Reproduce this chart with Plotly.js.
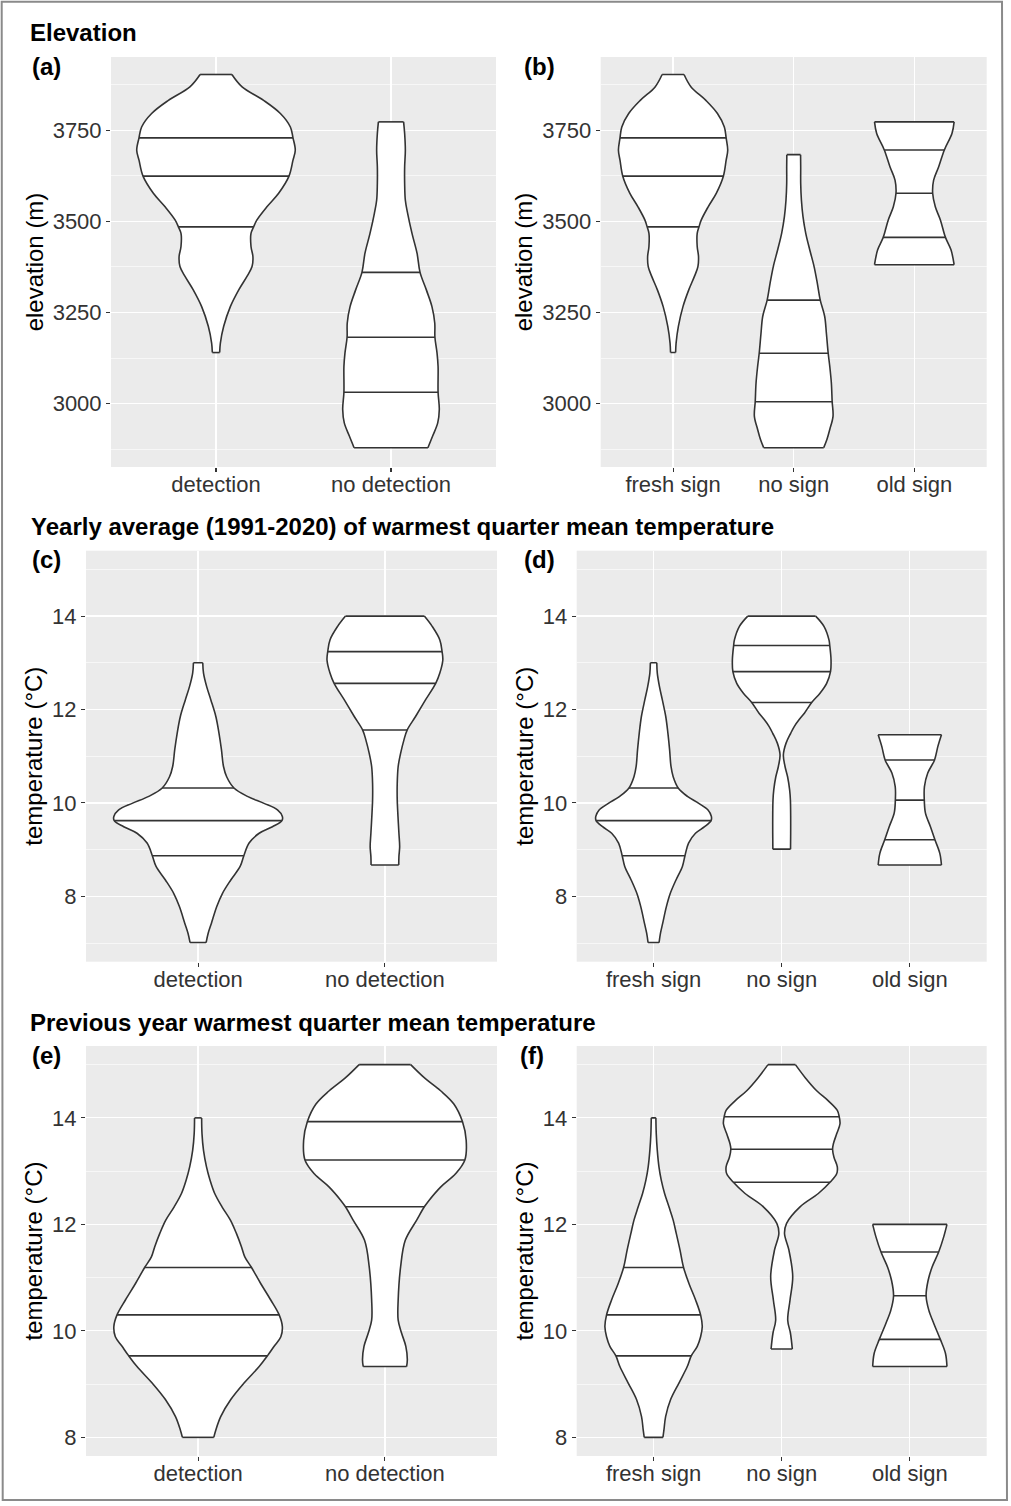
<!DOCTYPE html>
<html>
<head>
<meta charset="utf-8">
<script src="https://cdn.plot.ly/plotly-3.0.1.min.js"></script>
<style>
html,body{margin:0;padding:0;background:#fff;}
#chart{width:1011px;height:1506px;}
</style>
</head>
<body>
<div id="chart"></div>
<script>
// ---------------- categories, titles, ticks ----------------
const detCats  = ['detection', 'no detection'];
const signCats = ['fresh sign', 'no sign', 'old sign'];
const sectionTitles = ['Elevation',
  'Yearly average (1991-2020) of warmest quarter mean temperature',
  'Previous year warmest quarter mean temperature'];
const panelLabels = ['(a)', '(b)', '(c)', '(d)', '(e)', '(f)'];
const elevTitle = 'elevation (m)';
const tempTitle = 'temperature (°C)';
const elevTicks = [3000, 3250, 3500, 3750];
const elevMinor = [2875, 3125, 3375, 3625, 3875];
const tempTicks = [8, 10, 12, 14];
const tempMinorCD = [7, 9, 11, 13, 15];
const tempMinorEF = [9, 11, 13, 15];
const elevRange = [2826, 3951];
const yavgRange = [6.6, 15.4];
const prevRange = [7.65, 15.35];

// ---------------- violin outlines: value level, half-width (category units), quartiles ----------------
// Elevation: detection (also fresh sign)
const elevDetY = [3903, 3869, 3832, 3796, 3759, 3729, 3695, 3668, 3624, 3577, 3540, 3504, 3485, 3467, 3431, 3403, 3376, 3349, 3312, 3266, 3212, 3166, 3140];
const elevDetW = [0.091, 0.149, 0.272, 0.368, 0.425, 0.440, 0.453, 0.440, 0.417, 0.358, 0.291, 0.234, 0.215, 0.200, 0.200, 0.211, 0.206, 0.177, 0.130, 0.082, 0.044, 0.025, 0.021];
const elevDetQ = [3485, 3624, 3729];
// Elevation: no detection
const elevNoDetY = [3773, 3741, 3695, 3650, 3604, 3558, 3522, 3467, 3412, 3360, 3312, 3266, 3221, 3182, 3139, 3102, 3031, 2984, 2947, 2911, 2879];
const elevNoDetW = [0.072, 0.078, 0.082, 0.078, 0.078, 0.082, 0.095, 0.120, 0.149, 0.166, 0.202, 0.234, 0.250, 0.251, 0.263, 0.269, 0.269, 0.276, 0.267, 0.238, 0.211];
const elevNoDetQ = [3031, 3182, 3360];
// Elevation: no sign
const elevNoSignY = [3683, 3650, 3604, 3558, 3513, 3467, 3422, 3376, 3330, 3284, 3239, 3193, 3138, 3102, 3057, 3005, 2965, 2929, 2902, 2879];
const elevNoSignW = [0.057, 0.058, 0.058, 0.064, 0.077, 0.100, 0.133, 0.169, 0.196, 0.220, 0.257, 0.271, 0.286, 0.299, 0.312, 0.319, 0.326, 0.299, 0.276, 0.249];
const elevNoSignQ = [3005, 3138, 3284];
// Elevation: old sign
const elevOldY = [3773, 3741, 3696, 3650, 3613, 3577, 3540, 3504, 3456, 3422, 3381];
const elevOldW = [0.330, 0.312, 0.249, 0.202, 0.160, 0.152, 0.174, 0.216, 0.258, 0.304, 0.330];
const elevOldQ = [3456, 3577, 3696];

// Yearly average: detection (also fresh sign)
const yavgDetY = [13.00, 12.78, 12.49, 12.21, 11.85, 11.49, 11.14, 10.78, 10.56, 10.32, 10.14, 9.99, 9.85, 9.71, 9.62, 9.49, 9.35, 9.14, 8.87, 8.64, 8.35, 8.06, 7.78, 7.42, 7.21, 7.01];
const yavgDetW = [0.025, 0.029, 0.046, 0.068, 0.095, 0.112, 0.125, 0.136, 0.153, 0.192, 0.264, 0.353, 0.425, 0.451, 0.449, 0.398, 0.327, 0.273, 0.245, 0.225, 0.175, 0.130, 0.100, 0.071, 0.054, 0.043];
const yavgDetQ = [8.87, 9.62, 10.32];
// Yearly average: no detection
const yavgNoDetY = [14.00, 13.78, 13.49, 13.24, 13.06, 12.78, 12.56, 12.21, 11.85, 11.56, 11.35, 11.06, 10.78, 10.42, 10.06, 9.71, 9.35, 9.06, 8.85, 8.67];
const yavgNoDetW = [0.211, 0.253, 0.294, 0.306, 0.310, 0.294, 0.272, 0.218, 0.164, 0.119, 0.102, 0.084, 0.071, 0.066, 0.066, 0.070, 0.075, 0.079, 0.075, 0.074];
const yavgNoDetQ = [11.56, 12.56, 13.24];
// Yearly average: no sign
const yavgNoSignY = [14.00, 13.78, 13.49, 13.37, 13.06, 12.81, 12.56, 12.35, 12.15, 11.92, 11.78, 11.64, 11.49, 11.28, 11.03, 10.78, 10.56, 10.28, 10.06, 9.71, 9.35, 9.01];
const yavgNoSignW = [0.265, 0.330, 0.369, 0.375, 0.385, 0.381, 0.351, 0.299, 0.234, 0.177, 0.135, 0.099, 0.070, 0.034, 0.013, 0.026, 0.046, 0.062, 0.068, 0.070, 0.070, 0.069];
const yavgNoSignQ = [12.15, 12.81, 13.37];
// Yearly average: old sign
const yavgOldY = [11.46, 11.21, 10.92, 10.64, 10.35, 10.06, 9.78, 9.49, 9.21, 8.92, 8.67];
const yavgOldW = [0.247, 0.219, 0.193, 0.140, 0.114, 0.113, 0.122, 0.161, 0.196, 0.234, 0.247];
const yavgOldQ = [9.21, 10.06, 10.92];

// Previous year: detection
const prevDetY = [14.00, 13.70, 13.39, 13.08, 12.83, 12.58, 12.33, 12.08, 11.83, 11.58, 11.39, 11.19, 10.89, 10.58, 10.30, 10.08, 9.89, 9.71, 9.53, 9.33, 9.02, 8.71, 8.39, 8.14, 8.00];
const prevDetW = [0.019, 0.021, 0.029, 0.045, 0.064, 0.089, 0.128, 0.173, 0.205, 0.232, 0.250, 0.286, 0.335, 0.389, 0.434, 0.451, 0.443, 0.407, 0.371, 0.327, 0.246, 0.175, 0.121, 0.095, 0.084];
const prevDetQ = [9.53, 10.30, 11.19];
// Previous year: no detection
const prevNoDetY = [15.00, 14.76, 14.51, 14.26, 13.93, 13.58, 13.21, 12.95, 12.70, 12.45, 12.33, 12.08, 11.70, 11.20, 10.58, 10.20, 9.96, 9.71, 9.46, 9.33];
const prevNoDetW = [0.138, 0.209, 0.298, 0.369, 0.415, 0.435, 0.428, 0.378, 0.298, 0.236, 0.211, 0.170, 0.109, 0.084, 0.071, 0.071, 0.089, 0.112, 0.120, 0.116];
const prevNoDetQ = [12.33, 13.21, 13.93];
// Previous year: fresh sign
const prevFreshY = [14.00, 13.70, 13.39, 13.08, 12.83, 12.58, 12.33, 12.08, 11.83, 11.52, 11.19, 10.89, 10.58, 10.30, 10.08, 9.89, 9.71, 9.53, 9.33, 9.02, 8.71, 8.39, 8.14, 8.00];
const prevFreshW = [0.018, 0.021, 0.029, 0.042, 0.060, 0.086, 0.120, 0.153, 0.177, 0.206, 0.234, 0.276, 0.328, 0.367, 0.380, 0.367, 0.341, 0.294, 0.263, 0.198, 0.133, 0.094, 0.081, 0.073];
const prevFreshQ = [9.53, 10.30, 11.19];
// Previous year: no sign
const prevNoSignY = [15.00, 14.76, 14.51, 14.32, 14.14, 14.02, 13.89, 13.70, 13.51, 13.41, 13.26, 13.08, 12.95, 12.79, 12.58, 12.33, 12.02, 11.83, 11.52, 11.02, 10.58, 10.20, 9.96, 9.66];
const prevNoSignW = [0.107, 0.182, 0.273, 0.364, 0.434, 0.449, 0.455, 0.429, 0.403, 0.397, 0.408, 0.434, 0.429, 0.377, 0.286, 0.143, 0.038, 0.022, 0.056, 0.086, 0.065, 0.047, 0.068, 0.083];
const prevNoSignQ = [12.79, 13.41, 14.02];
// Previous year: old sign
const prevOldY = [12.00, 11.77, 11.48, 11.20, 10.95, 10.66, 10.39, 10.14, 9.84, 9.58, 9.33];
const prevOldW = [0.290, 0.265, 0.225, 0.174, 0.143, 0.127, 0.148, 0.187, 0.238, 0.278, 0.290];
const prevOldQ = [9.84, 10.66, 11.48];

// ---------------- helpers ----------------
const FIG_W = 1011, FIG_H = 1506;
const FONT = 'Liberation Sans, Arial, Helvetica, sans-serif';
const LINE = '#333333';
const LW = 1.6;
const px = v => v / FIG_W;
const py = v => 1 - v / FIG_H;

function widthAt(ys, ws, v) {
  for (let i = 0; i < ys.length - 1; i++) {
    const a = ys[i], b = ys[i + 1];
    if ((v <= a && v >= b) || (v >= a && v <= b)) {
      const t = (a === b) ? 0 : (v - a) / (b - a);
      return ws[i] + t * (ws[i + 1] - ws[i]);
    }
  }
  return 0;
}

const traces = [];
function addViolin(k, pos, ys, ws, qs) {
  const xa = 'x' + (k === 1 ? '' : k), ya = 'y' + (k === 1 ? '' : k);
  const common = {xaxis: xa, yaxis: ya, mode: 'lines', hoverinfo: 'skip', showlegend: false};
  traces.push(Object.assign({}, common, {
    x: ys.map((y, i) => pos - ws[i]), y: ys,
    line: {color: LINE, width: LW, shape: 'spline', smoothing: 1}
  }));
  traces.push(Object.assign({}, common, {
    x: ys.map((y, i) => pos + ws[i]), y: ys,
    fill: 'tonextx', fillcolor: '#ffffff',
    line: {color: LINE, width: LW, shape: 'spline', smoothing: 1}
  }));
  const lx = [], ly = [];
  [ys[0], ys[ys.length - 1]].concat(qs).forEach(v => {
    const w = widthAt(ys, ws, v);
    lx.push(pos - w, pos + w, null);
    ly.push(v, v, null);
  });
  traces.push(Object.assign({}, common, {x: lx, y: ly, line: {color: LINE, width: LW}}));
}

// panel (a)
addViolin(1, 1, elevDetY, elevDetW, elevDetQ);
addViolin(1, 2, elevNoDetY, elevNoDetW, elevNoDetQ);
// panel (b)
addViolin(2, 1, elevDetY, elevDetW, elevDetQ);
addViolin(2, 2, elevNoSignY, elevNoSignW, elevNoSignQ);
addViolin(2, 3, elevOldY, elevOldW, elevOldQ);
// panel (c)
addViolin(3, 1, yavgDetY, yavgDetW, yavgDetQ);
addViolin(3, 2, yavgNoDetY, yavgNoDetW, yavgNoDetQ);
// panel (d)
addViolin(4, 1, yavgDetY, yavgDetW, yavgDetQ);
addViolin(4, 2, yavgNoSignY, yavgNoSignW, yavgNoSignQ);
addViolin(4, 3, yavgOldY, yavgOldW, yavgOldQ);
// panel (e)
addViolin(5, 1, prevDetY, prevDetW, prevDetQ);
addViolin(5, 2, prevNoDetY, prevNoDetW, prevNoDetQ);
// panel (f)
addViolin(6, 1, prevFreshY, prevFreshW, prevFreshQ);
addViolin(6, 2, prevNoSignY, prevNoSignW, prevNoSignQ);
addViolin(6, 3, prevOldY, prevOldW, prevOldQ);

function xAxis(x0, x1, cats, anchor) {
  return {
    domain: [px(x0), px(x1)], anchor: anchor,
    range: [0.4, cats.length + 0.6],
    tickmode: 'array', tickvals: cats.map((c, i) => i + 1), ticktext: cats,
    showgrid: true, gridcolor: '#ffffff', gridwidth: 1.2,
    zeroline: false, showline: false,
    ticks: 'outside', ticklen: 4, tickwidth: 1.1, tickcolor: LINE,
    ticklabelstandoff: -6,
    tickfont: {family: FONT, size: 22, color: '#333333'},
    fixedrange: true
  };
}
function yAxis(y0, y1, range, ticks, minor, title, anchor) {
  return {
    domain: [py(y1), py(y0)], anchor: anchor, range: range,
    tickmode: 'array', tickvals: ticks, ticktext: ticks.map(String),
    showgrid: true, gridcolor: '#ffffff', gridwidth: 1.2,
    minor: {tickmode: 'array', tickvals: minor, showgrid: true, gridcolor: '#ffffff', gridwidth: 0.6, ticks: ''},
    zeroline: false, showline: false,
    ticks: 'outside', ticklen: 4, tickwidth: 1.1, tickcolor: LINE,
    tickfont: {family: FONT, size: 22, color: '#333333'},
    title: {text: title, font: {family: FONT, size: 24, color: '#000'}, standoff: 2},
    fixedrange: true
  };
}

const rowA = [57, 467], rowC = [550.7, 961.7], rowE = [1046, 1456];
const colL2 = [111, 496], colR = [600.7, 986.7];
const colLt = [86, 497], colRt = [576.7, 986.7];

const layout = {
  width: FIG_W, height: FIG_H,
  margin: {l: 0, r: 0, t: 0, b: 0, pad: 0},
  paper_bgcolor: '#ffffff', plot_bgcolor: '#ebebeb',
  showlegend: false,
  font: {family: FONT, color: '#000'},
  xaxis:  xAxis(colL2[0], colL2[1], detCats, 'y'),
  yaxis:  yAxis(rowA[0], rowA[1], elevRange, elevTicks, elevMinor, elevTitle, 'x'),
  xaxis2: xAxis(colR[0], colR[1], signCats, 'y2'),
  yaxis2: yAxis(rowA[0], rowA[1], elevRange, elevTicks, elevMinor, elevTitle, 'x2'),
  xaxis3: xAxis(colLt[0], colLt[1], detCats, 'y3'),
  yaxis3: yAxis(rowC[0], rowC[1], yavgRange, tempTicks, tempMinorCD, tempTitle, 'x3'),
  xaxis4: xAxis(colRt[0], colRt[1], signCats, 'y4'),
  yaxis4: yAxis(rowC[0], rowC[1], yavgRange, tempTicks, tempMinorCD, tempTitle, 'x4'),
  xaxis5: xAxis(colLt[0], colLt[1], detCats, 'y5'),
  yaxis5: yAxis(rowE[0], rowE[1], prevRange, tempTicks, tempMinorEF, tempTitle, 'x5'),
  xaxis6: xAxis(colRt[0], colRt[1], signCats, 'y6'),
  yaxis6: yAxis(rowE[0], rowE[1], prevRange, tempTicks, tempMinorEF, tempTitle, 'x6'),
  shapes: [{
    type: 'path', xref: 'paper', yref: 'paper',
    path: 'M ' + px(1.7) + ',' + py(1.7) + ' L ' + px(1002) + ',' + py(1.7) +
          ' L ' + px(1007) + ',' + py(1500) + ' L ' + px(2.7) + ',' + py(1500) + ' Z',
    line: {color: '#8a8a8a', width: 2}, fillcolor: 'rgba(0,0,0,0)', layer: 'above'
  }],
  annotations: []
};

const titlePos = [[28.3, 32.2], [29.3, 526.7], [28.3, 1022.2]];
sectionTitles.forEach((t, i) => layout.annotations.push({
  text: '<b>' + t + '</b>', xref: 'paper', yref: 'paper', x: px(titlePos[i][0]), y: py(titlePos[i][1]),
  xanchor: 'left', yanchor: 'middle', showarrow: false,
  font: {family: FONT, size: 24, color: '#000'}
}));
const labelPos = [[30, 67], [521.7, 67], [30, 559], [521.7, 559], [30, 1055], [518.3, 1055]];
panelLabels.forEach((t, i) => layout.annotations.push({
  text: '<b>' + t + '</b>', xref: 'paper', yref: 'paper', x: px(labelPos[i][0]), y: py(labelPos[i][1]),
  xanchor: 'left', yanchor: 'middle', showarrow: false,
  font: {family: FONT, size: 24, color: '#000'}
}));

Plotly.newPlot('chart', traces, layout, {staticPlot: true, displayModeBar: false});
</script>
</body>
</html>
